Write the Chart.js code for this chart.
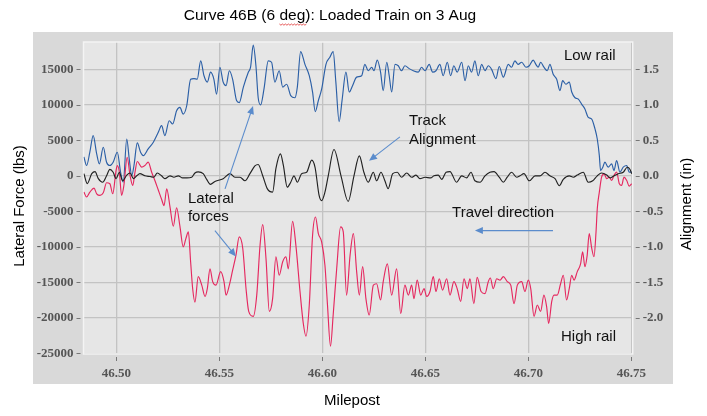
<!DOCTYPE html>
<html><head><meta charset="utf-8">
<script src="https://cdn.jsdelivr.net/npm/chart.js@4.4.1/dist/chart.umd.min.js"></script>
<style>html,body{margin:0;padding:0;background:#fff;}</style>
</head><body>
<canvas id="c" width="707" height="416"></canvas>
<script>
// ---- Tick labels ----
const mileTicks = [46.50, 46.55, 46.60, 46.65, 46.70, 46.75];
const forceTicks = [-25000, -20000, -15000, -10000, -5000, 0, 5000, 10000, 15000];
const alignTicks = [-2.0, -1.5, -1.0, -0.5, 0.0, 0.5, 1.0, 1.5];

// ---- Low rail lateral force (lbs) ----
const lowRailMile = [46.4842,46.4855,46.4871,46.4887,46.4904,46.4917,46.4936,46.4952,46.4968,46.4984,
46.5004,46.5020,46.5033,46.5050,46.5062,46.5074,46.5085,46.5101,46.5117,46.5130,
46.5154,46.5179,46.5203,46.5219,46.5235,46.5256,46.5273,46.5292,46.5308,46.5324,
46.5341,46.5360,46.5376,46.5392,46.5409,46.5425,46.5441,46.5457,46.5473,46.5486,
46.5502,46.5518,46.5532,46.5548,46.5564,46.5583,46.5596,46.5616,46.5640,46.5651,
46.5664,46.5677,46.5688,46.5700,46.5716,46.5737,46.5753,46.5769,46.5790,46.5807,
46.5826,46.5846,46.5866,46.5878,46.5894,46.5915,46.5936,46.5952,46.5965,46.5980,
46.5996,46.6017,46.6036,46.6052,46.6065,46.6081,46.6095,46.6114,46.6130,46.6146,
46.6166,46.6190,46.6206,46.6222,46.6239,46.6250,46.6266,46.6282,46.6295,46.6312,
46.6324,46.6336,46.6352,46.6368,46.6384,46.6400,46.6421,46.6441,46.6465,46.6481,
46.6498,46.6518,46.6535,46.6551,46.6570,46.6586,46.6606,46.6622,46.6638,46.6654,
46.6676,46.6692,46.6708,46.6724,46.6740,46.6756,46.6773,46.6789,46.6805,46.6821,
46.6842,46.6858,46.6878,46.6902,46.6918,46.6934,46.6950,46.6967,46.6988,46.7004,
46.7023,46.7036,46.7047,46.7059,46.7075,46.7091,46.7104,46.7120,46.7137,46.7153,
46.7166,46.7182,46.7198,46.7210,46.7226,46.7242,46.7258,46.7274,46.7290,46.7307,
46.7323,46.7334,46.7344,46.7350,46.7361,46.7371,46.7387,46.7404,46.7415,46.7428,
46.7444,46.7460,46.7477,46.7489,46.7501];
const lowRailForce = [2670,1450,3370,5660,3090,1680,4030,1920,1450,1920,
3320,520,-880,5190,2390,40,1450,4630,3320,2850,
3790,4730,6130,7060,5660,7760,7300,9170,9640,8700,
9870,13600,13700,13600,16200,14100,13200,14600,13600,11500,
15300,13200,12700,14800,13600,10600,10300,12500,14600,15300,
18400,15500,11000,10000,12200,16200,16000,13200,14800,12500,
12900,11300,11000,12500,17500,15700,14100,11800,9030,10600,
12200,15700,16700,17500,13200,7620,10600,14600,11800,12700,
13900,14100,15700,14800,15300,14800,16300,14600,12000,16000,
14100,11800,15700,15500,14800,15500,15100,14800,14600,15300,
14800,15700,14600,14800,15700,14100,16000,14100,15500,14600,
16000,13400,15500,14600,16200,14100,15700,14800,15500,15000,
13700,15400,13900,15700,15300,16200,15700,16000,15300,15500,
16300,15700,15300,16000,15300,14800,15700,14300,13600,12000,
13400,12900,13200,11800,11000,10800,10100,9410,8240,8000,
6600,5190,2850,740,1220,1920,1220,1680,740,2150,
520,1220,1450,520,520];

// ---- High rail lateral force (lbs) ----
const highRailMile = [46.4842,46.4855,46.4871,46.4891,46.4904,46.4920,46.4936,46.4952,46.4968,46.4982,
46.4998,46.5004,46.5014,46.5025,46.5036,46.5052,46.5066,46.5079,46.5090,46.5101,
46.5122,46.5138,46.5154,46.5171,46.5187,46.5203,46.5219,46.5231,46.5244,46.5260,
46.5276,46.5292,46.5308,46.5324,46.5337,46.5349,46.5360,46.5370,46.5381,46.5397,
46.5414,46.5430,46.5441,46.5454,46.5467,46.5483,46.5506,46.5522,46.5532,46.5548,
46.5564,46.5580,46.5596,46.5613,46.5629,46.5642,46.5664,46.5681,46.5697,46.5710,
46.5726,46.5742,46.5758,46.5774,46.5790,46.5807,46.5823,46.5834,46.5855,46.5871,
46.5891,46.5907,46.5920,46.5936,46.5952,46.5966,46.5980,46.5996,46.6012,46.6024,
46.6039,46.6052,46.6069,46.6088,46.6101,46.6117,46.6134,46.6150,46.6166,46.6179,
46.6195,46.6211,46.6227,46.6247,46.6263,46.6282,46.6295,46.6315,46.6336,46.6360,
46.6380,46.6400,46.6417,46.6433,46.6444,46.6460,46.6477,46.6493,46.6506,46.6522,
46.6538,46.6551,46.6567,46.6583,46.6603,46.6619,46.6638,46.6654,46.6671,46.6687,
46.6703,46.6716,46.6735,46.6751,46.6770,46.6789,46.6805,46.6815,46.6829,46.6846,
46.6862,46.6878,46.6897,46.6914,46.6930,46.6946,46.6967,46.6983,46.6999,46.7011,
46.7027,46.7043,46.7059,46.7075,46.7088,46.7098,46.7113,46.7124,46.7140,46.7156,
46.7169,46.7185,46.7198,46.7210,46.7221,46.7237,46.7253,46.7263,46.7274,46.7285,
46.7295,46.7307,46.7318,46.7328,46.7334,46.7344,46.7355,46.7367,46.7380,46.7392,
46.7404,46.7415,46.7428,46.7441,46.7452,46.7464,46.7477,46.7489,46.7501];
const highRailForce = [-2290,-2990,-2290,-1730,-2530,-2760,-2390,-980,-1120,-2530,
740,1450,520,-2760,-1360,2620,40,-1360,520,2010,
1220,1450,1920,500,-700,-2000,-3300,-4200,-1830,-4400,
-7100,-4500,-7100,-10000,-8840,-7900,-12100,-15900,-17800,-14200,
-15400,-17000,-15900,-13100,-14900,-15400,-13500,-14900,-16800,-15400,
-13300,-11200,-8610,-10200,-15900,-19100,-19800,-16800,-9790,-6880,
-11700,-19100,-17300,-11400,-14000,-12100,-11400,-13100,-6420,-9790,
-16300,-20800,-22600,-18200,-8380,-5800,-8140,-9300,-12600,-18000,
-24000,-19600,-13100,-7200,-7900,-16800,-11200,-8140,-13500,-16800,
-12800,-17300,-19600,-15400,-15200,-17500,-14900,-12400,-16800,-13100,
-19400,-15400,-16800,-15400,-17300,-14700,-16800,-15900,-17000,-16300,
-14200,-16300,-14500,-16100,-14500,-16800,-14900,-15900,-17700,-14500,
-15900,-14500,-18000,-14300,-16300,-16600,-14900,-14400,-15900,-14500,
-14700,-14200,-14900,-15400,-18000,-15400,-14900,-16300,-14700,-15900,
-19800,-18200,-19100,-16800,-18400,-20800,-17700,-16800,-16800,-15200,
-14000,-17500,-15900,-14000,-14700,-13500,-12400,-10700,-12800,-11200,
-8140,-10200,-11400,-7900,-4630,-2290,-180,280,-420,-180,
-660,40,520,-1120,-1360,-180,-660,-1450,-1120];

// ---- Track alignment (in) ----
const alignMile = [46.4842,46.4858,46.4880,46.4896,46.4912,46.4933,46.4952,46.4968,46.4984,46.4998,
46.5014,46.5030,46.5050,46.5066,46.5082,46.5098,46.5114,46.5138,46.5163,46.5182,
46.5198,46.5219,46.5235,46.5260,46.5279,46.5300,46.5321,46.5342,46.5365,46.5381,
46.5397,46.5421,46.5438,46.5456,46.5478,46.5499,46.5518,46.5551,46.5575,46.5600,
46.5624,46.5648,46.5672,46.5688,46.5710,46.5732,46.5758,46.5774,46.5796,46.5810,
46.5829,46.5846,46.5862,46.5878,46.5899,46.5923,46.5948,46.5964,46.5984,46.5996,
46.6012,46.6028,46.6056,46.6090,46.6125,46.6153,46.6179,46.6201,46.6222,46.6247,
46.6263,46.6284,46.6303,46.6319,46.6341,46.6363,46.6384,46.6409,46.6433,46.6454,
46.6473,46.6498,46.6525,46.6541,46.6562,46.6579,46.6600,46.6619,46.6651,46.6676,
46.6700,46.6721,46.6740,46.6765,46.6789,46.6813,46.6833,46.6858,46.6878,46.6897,
46.6918,46.6943,46.6959,46.6978,46.7004,46.7032,46.7056,46.7080,46.7104,46.7129,
46.7150,46.7169,46.7198,46.7218,46.7237,46.7266,46.7290,46.7312,46.7334,46.7355,
46.7380,46.7396,46.7412,46.7436,46.7460,46.7480,46.7493,46.7501];
const alignInches = [0.03,-0.11,0.03,0.06,-0.04,-0.09,0.00,0.09,0.05,-0.04,
0.05,-0.07,0.01,0.04,-0.04,0.00,0.03,0.00,-0.01,-0.02,
0.04,0.00,-0.04,0.00,-0.02,0.00,-0.03,-0.03,-0.02,0.04,
0.055,0.03,-0.05,-0.12,-0.08,-0.06,-0.04,0.03,-0.02,-0.02,
-0.07,0.03,0.14,0.16,0.00,-0.18,-0.23,0.10,0.31,0.15,
-0.16,-0.09,0.00,-0.09,0.03,0.05,0.22,0.12,-0.28,-0.35,
-0.23,0.00,0.37,0.00,-0.36,0.00,0.28,0.05,-0.09,0.05,
-0.07,0.05,-0.07,-0.18,0.03,0.05,-0.02,0.04,-0.02,0.01,
-0.04,-0.02,-0.03,0.00,0.01,-0.05,0.05,0.06,-0.09,0.00,
-0.03,0.05,-0.07,-0.09,0.00,0.05,0.06,-0.02,-0.09,-0.02,
0.05,-0.02,0.00,0.03,-0.07,0.00,0.00,0.05,0.00,-0.04,
-0.14,-0.05,0.00,-0.02,0.01,0.05,-0.09,-0.07,0.00,0.04,
0.01,-0.03,-0.005,0.03,0.05,0.12,0.09,0.03];

const SANS = '"Liberation Sans", Arial, sans-serif';
const SERIF = '"Liberation Serif", "Times New Roman", serif';

function pairs(xs, ys){ return xs.map((x,i)=>({x:x, y:ys[i]})); }

const framePlugin = {
  id: 'frame',
  beforeDraw(chart){
    const ctx = chart.ctx, a = chart.chartArea;
    ctx.save();
    ctx.fillStyle = '#ffffff';
    ctx.fillRect(0,0,chart.width,chart.height);
    ctx.fillStyle = '#d9d9d9';
    ctx.fillRect(33,32,640,352);
    ctx.fillStyle = '#e6e6e6';
    ctx.fillRect(a.left,a.top,a.right-a.left,a.bottom-a.top);
    ctx.restore();
  },
  beforeDatasetsDraw(chart){
    const ctx = chart.ctx, a = chart.chartArea;
    ctx.save();
    ctx.strokeStyle = '#f4f4f4';
    ctx.lineWidth = 1.5;
    ctx.strokeRect(a.left,a.top,a.right-a.left,a.bottom-a.top);
    // short tick dashes, set a little apart from the plot frame
    ctx.strokeStyle = '#777777';
    ctx.lineWidth = 1;
    const sx = chart.scales.x, sy = chart.scales.y, sy2 = chart.scales.y2;
    ctx.beginPath();
    sx.ticks.forEach(t=>{ const px = Math.round(sx.getPixelForValue(t.value))+0.5;
      ctx.moveTo(px, a.bottom+3); ctx.lineTo(px, a.bottom+7); });
    sy.ticks.forEach(t=>{ const py = Math.round(sy.getPixelForValue(t.value))+0.5;
      ctx.moveTo(a.left-7, py); ctx.lineTo(a.left-3, py); });
    sy2.ticks.forEach(t=>{ const py = Math.round(sy2.getPixelForValue(t.value))+0.5;
      ctx.moveTo(a.right+3, py); ctx.lineTo(a.right+7, py); });
    ctx.stroke();
    ctx.restore();
  },
  afterDatasetsDraw(chart){
    const ctx = chart.ctx;
    const xs = chart.scales.x, ys = chart.scales.y;
    const P = (m,v)=>[xs.getPixelForValue(m), ys.getPixelForValue(v)];
    ctx.save();
    ctx.fillStyle = '#111';
    ctx.font = '15px ' + SANS;
    ctx.textBaseline = 'middle';
    ctx.textAlign = 'left';
    const labels = [
      ['Low rail', 46.7172, 16850],
      ['High rail', 46.7158, -22750],
      ['Track', 46.6420, 7720],
      ['Alignment', 46.6420, 5050],
      ['Lateral', 46.5347, -3230],
      ['forces', 46.5347, -5760],
      ['Travel direction', 46.6629, -5190]
    ];
    labels.forEach(l=>{ const p = P(l[1],l[2]); ctx.fillText(l[0], p[0], p[1]); });
    const arrows = [
      [46.5527,-1830, 46.5663,9830],
      [46.5478,-7720, 46.5580,-11370],
      [46.6376,5480, 46.6226,2110],
      [46.7119,-7720, 46.6740,-7720]
    ];
    ctx.strokeStyle = '#5b8ccc';
    ctx.fillStyle = '#5b8ccc';
    ctx.lineWidth = 1.1;
    arrows.forEach(ar=>{
      const s = P(ar[0],ar[1]), e = P(ar[2],ar[3]);
      const ang = Math.atan2(e[1]-s[1], e[0]-s[0]);
      ctx.beginPath(); ctx.moveTo(s[0],s[1]);
      ctx.lineTo(e[0]-4*Math.cos(ang), e[1]-4*Math.sin(ang)); ctx.stroke();
      ctx.beginPath();
      ctx.moveTo(e[0],e[1]);
      ctx.lineTo(e[0]-8*Math.cos(ang)+3.5*Math.sin(ang), e[1]-8*Math.sin(ang)-3.5*Math.cos(ang));
      ctx.lineTo(e[0]-8*Math.cos(ang)-3.5*Math.sin(ang), e[1]-8*Math.sin(ang)+3.5*Math.cos(ang));
      ctx.closePath(); ctx.fill();
    });
    ctx.restore();
  },
  afterDraw(chart){
    const ctx = chart.ctx;
    ctx.save();
    ctx.fillStyle = '#000';
    ctx.font = '15.5px ' + SANS;
    ctx.textAlign = 'center';
    ctx.textBaseline = 'middle';
    const title = 'Curve 46B (6 deg): Loaded Train on 3 Aug';
    const cx = 330, cy = 16;
    ctx.fillText(title, cx, cy);
    // spell-check squiggle under "deg"
    const tw = ctx.measureText(title).width;
    const pre = ctx.measureText('Curve 46B (6 ').width;
    const dw = ctx.measureText('deg').width;
    const x0 = cx - tw/2 + pre, yb = cy + 8;
    ctx.strokeStyle = '#e03030'; ctx.lineWidth = 0.8;
    ctx.beginPath(); ctx.moveTo(x0, yb);
    for (let x = x0, k = 0; x < x0 + dw; x += 1.5, k++) ctx.lineTo(x + 1.5, yb + (k % 2 ? 0 : 1.2));
    ctx.stroke();
    ctx.font = '15px ' + SANS;
    ctx.fillText('Milepost', 352, 401);
    ctx.save(); ctx.translate(20, 206); ctx.rotate(-Math.PI/2);
    ctx.fillText('Lateral Force (lbs)', 0, 0); ctx.restore();
    ctx.save(); ctx.translate(687, 204); ctx.rotate(-Math.PI/2);
    ctx.fillText('Alignment (in)', 0, 0); ctx.restore();
    ctx.restore();
  }
};

const tickFont = {family: SERIF, size: 13, weight: 'bold'};

new Chart(document.getElementById('c'), {
  type: 'line',
  data: {
    datasets: [
      {label:'Track Alignment', data: pairs(alignMile, alignInches), yAxisID:'y2',
       borderColor:'#222222', borderWidth:1.15, pointRadius:0, cubicInterpolationMode:'monotone', order:0},
      {label:'High rail', data: pairs(highRailMile, highRailForce), yAxisID:'y',
       borderColor:'#e5285f', borderWidth:1.15, pointRadius:0, cubicInterpolationMode:'monotone', order:1},
      {label:'Low rail', data: pairs(lowRailMile, lowRailForce), yAxisID:'y',
       borderColor:'#2b5fa6', borderWidth:1.15, pointRadius:0, cubicInterpolationMode:'monotone', order:2}
    ]
  },
  options: {
    responsive: false,
    animation: false,
    devicePixelRatio: 1,
    layout: {padding: {top: 42, left: 0, right: 0, bottom: 0}},
    plugins: {legend:{display:false}, title:{display:false}, tooltip:{enabled:false}},
    scales: {
      x: {
        type: 'linear', min: 46.484, max: 46.7506,
        afterBuildTicks: s => { s.ticks = mileTicks.map(v=>({value:v})); },
        afterFit: s => { s.height = 62; },
        ticks: {font: tickFont, color:'#555555', padding: 4, maxRotation:0, autoSkip:false,
                callback: v => Number(v).toFixed(2)},
        grid: {color:'#c3c3c3', lineWidth:1.3, tickColor:'rgba(0,0,0,0)', tickLength:8},
        border: {display:false}
      },
      y: {
        type: 'linear', position: 'left', min: -25100, max: 18850,
        afterBuildTicks: s => { s.ticks = forceTicks.map(v=>({value:v})); },
        afterFit: s => { s.width = 83.5; },
        ticks: {font: tickFont, color:'#555555', padding: 3, autoSkip:false,
                callback: v => String(v)},
        grid: {color:'#c3c3c3', lineWidth:1.3, tickColor:'rgba(0,0,0,0)', tickLength:7},
        border: {display:false}
      },
      y2: {
        type: 'linear', position: 'right', min: -2.51, max: 1.885,
        afterBuildTicks: s => { s.ticks = alignTicks.map(v=>({value:v})); },
        afterFit: s => { s.width = 74.3; },
        ticks: {font: tickFont, color:'#555555', padding: 3, autoSkip:false,
                callback: v => Number(v).toFixed(1)},
        grid: {drawOnChartArea:false, color:'rgba(0,0,0,0)', lineWidth:1, tickLength:7},
        border: {display:false}
      }
    }
  },
  plugins: [framePlugin]
});
</script>
</body></html>
